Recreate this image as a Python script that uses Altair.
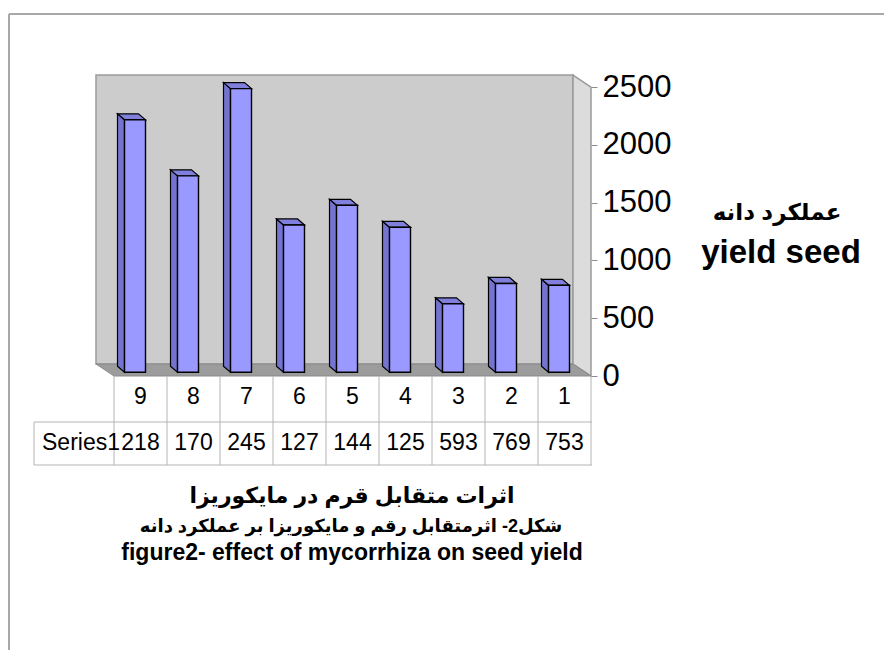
import altair as alt
import pandas as pd

# ---------------- data ----------------
categories = ["9", "8", "7", "6", "5", "4", "3", "2", "1"]
yield_values = [2185, 1700, 2455, 1275, 1445, 1255, 593, 769, 753]
table_labels = ["218", "170", "245", "127", "144", "125", "593", "769", "753"]
series_name = "Series1"
y_ticks = [0, 500, 1000, 1500, 2000, 2500]
title_fa = "اثرات متقابل قرم در مایکوریزا"
caption_fa = "شکل2- اثرمتقابل رقم و مایکوریزا بر عملکرد دانه"
caption_en = "figure2- effect of mycorrhiza on seed yield"
ytitle_fa = "عملکرد دانه"
ytitle_en = "yield seed"

# ---------------- geometry helpers ----------------
W, H = 477, 312
N = len(categories)
X_DOM = [-0.5, N - 0.5]
Y_DOM = [0, 2700]
WALL_TOP = 2500
PX_X = W / N
PX_Y = H / (Y_DOM[1] - Y_DOM[0])


def ux(px):
    return px / PX_X


def uy(px):
    return px / PX_Y


WALL_DX, WALL_DY = ux(-18), uy(12)
BAR_FX, BAR_FY = ux(-5.5), uy(3.7)
BAR_HW = ux(10.5)
BAR_DX, BAR_DY = ux(-7), uy(6)

FONT = "Liberation Sans, Arial, DejaVu Sans, sans-serif"
AFONT = "Liberation Sans, DejaVu Sans, sans-serif"

xs = alt.Scale(domain=X_DOM, nice=False, zero=False)
ys = alt.Scale(domain=Y_DOM, nice=False, zero=False)
yaxis = alt.Axis(orient="right", values=y_ticks, format="d", labelFontSize=31,
                 labelColor="black", labelFont=FONT, tickColor="#8c8c8c", tickSize=6,
                 tickWidth=1, domain=False, grid=False, title=None, labelPadding=5)


def X(f):
    return alt.X(f, type="quantitative", scale=xs, axis=None)


def Y(f):
    return alt.Y(f, type="quantitative", scale=ys, axis=yaxis)


# ---------------- frames ----------------
bars = pd.DataFrame({"i": list(range(N)), "cat": categories, "v": yield_values,
                     "lab": table_labels})
bars["x1"] = bars["i"] + BAR_FX - BAR_HW
bars["x2"] = bars["i"] + BAR_FX + BAR_HW
bars["y1"] = BAR_FY
bars["y2"] = bars["v"] + BAR_FY

side_rows, top_rows = [], []
for _, r in bars.iterrows():
    side_rows.append({"bar": r["i"], "x": r["x1"], "lo": BAR_FY, "hi": r["y2"]})
    side_rows.append({"bar": r["i"], "x": r["x1"] + BAR_DX, "lo": BAR_FY + BAR_DY,
                      "hi": r["y2"] + BAR_DY})
    top_rows.append({"bar": r["i"], "y": r["y2"], "lo": r["x1"], "hi": r["x2"]})
    top_rows.append({"bar": r["i"], "y": r["y2"] + BAR_DY, "lo": r["x1"] + BAR_DX,
                     "hi": r["x2"] + BAR_DX})
side = pd.DataFrame(side_rows)
top = pd.DataFrame(top_rows)

back = pd.DataFrame({"x1": [X_DOM[0] + WALL_DX], "x2": [X_DOM[1] + WALL_DX],
                     "y1": [WALL_DY], "y2": [WALL_TOP + WALL_DY]})
sidewall = pd.DataFrame({"x": [X_DOM[1] + WALL_DX, X_DOM[1]],
                         "lo": [WALL_DY, 0], "hi": [WALL_TOP + WALL_DY, WALL_TOP]})
floor = pd.DataFrame({"y": [0, WALL_DY], "lo": [X_DOM[0], X_DOM[0] + WALL_DX],
                      "hi": [X_DOM[1], X_DOM[1] + WALL_DX]})
colbounds = pd.DataFrame({"b": [i - 0.5 for i in range(N + 1)]})
one = pd.DataFrame({"k": [0]})

# ---------------- layers ----------------
back_l = alt.Chart(back).mark_rect(fill="#cccccc", stroke="#9a9a9a", strokeWidth=1.5).encode(
    x=X("x1"), x2="x2", y=Y("y1"), y2="y2")
side_l = alt.Chart(sidewall).mark_area(fill="#dcdcdc", stroke="#9a9a9a", strokeWidth=1.5,
                                       opacity=1).encode(x=X("x"), y=Y("lo"), y2="hi")
floor_l = alt.Chart(floor).mark_area(orient="horizontal", fill="#9c9c9c", stroke="#8a8a8a",
                                     strokeWidth=1, opacity=1).encode(
    y=Y("y"), x=X("lo"), x2="hi")

bar_side = alt.Chart(side).mark_area(fill="#7474d0", stroke="black", strokeWidth=1.2,
                                     opacity=1).encode(
    x=X("x"), y=Y("lo"), y2="hi", detail="bar:N")
bar_top = alt.Chart(top).mark_area(orient="horizontal", fill="#8080dc", stroke="black",
                                   strokeWidth=1.2, opacity=1).encode(
    y=Y("y"), x=X("lo"), x2="hi", detail="bar:N")
bar_front = alt.Chart(bars).mark_rect(fill="#9999ff", stroke="black", strokeWidth=1.4).encode(
    x=X("x1"), x2="x2", y=Y("y1"), y2="y2")

# data table
TCOL = "#b4b4b4"
vlines = alt.Chart(colbounds).mark_rule(color=TCOL, strokeWidth=1).encode(
    x=X("b"), y=alt.value(312), y2=alt.value(401))
hline1 = alt.Chart(one).mark_rule(color=TCOL, strokeWidth=1).encode(
    x=alt.value(-80), x2=alt.value(478), y=alt.value(358))
hline2 = alt.Chart(one).mark_rule(color=TCOL, strokeWidth=1).encode(
    x=alt.value(-80), x2=alt.value(478), y=alt.value(401))
lline = alt.Chart(one).mark_rule(color=TCOL, strokeWidth=1).encode(
    x=alt.value(-80), y=alt.value(358), y2=alt.value(401))
cat_txt = alt.Chart(bars).mark_text(font=FONT, fontSize=23, color="black",
                                    baseline="middle").encode(
    x=X("i"), y=alt.value(333), text="cat:N")
val_txt = alt.Chart(bars).mark_text(font=FONT, fontSize=23, color="black",
                                    baseline="middle").encode(
    x=X("i"), y=alt.value(379), text="lab:N")
ser_txt = alt.Chart(one).mark_text(font=FONT, fontSize=23, color="black", align="left",
                                   baseline="middle", text=series_name).encode(
    x=alt.value(-72), y=alt.value(379))


# titles
def label(txt, x, y, size, align="center"):
    return alt.Chart(one).mark_text(font=AFONT, fontSize=size, fontWeight="bold",
                                    color="black", align=align, baseline="middle",
                                    text=txt).encode(x=alt.value(x), y=alt.value(y))


t1 = label(title_fa, 238, 432, 22)
t2 = label(caption_fa, 237, 463, 18)
t3 = label(caption_en, 238, 489, 23)
yt1 = label(ytitle_fa, 663, 149, 23)
yt2 = label(ytitle_en, 667, 189, 33)

# outer frame
BCOL = "#a8a8a8"
btop = alt.Chart(one).mark_rule(color=BCOL, strokeWidth=2).encode(
    x=alt.value(-105), x2=alt.value(780), y=alt.value(-50))
bleft = alt.Chart(one).mark_rule(color=BCOL, strokeWidth=2).encode(
    x=alt.value(-105), y=alt.value(-50), y2=alt.value(600))

chart = alt.layer(
    back_l, side_l, floor_l, bar_side, bar_top, bar_front,
    vlines, hline1, hline2, lline, cat_txt, val_txt, ser_txt,
    t1, t2, t3, yt1, yt2, btop, bleft,
).properties(
    width=W, height=H,
    autosize=alt.AutoSizeParams(type="none"),
    padding={"left": 106, "top": 56, "right": 293, "bottom": 274},
).configure(background="white").configure_view(stroke=None)

chart.save("out.html", embed_options={"renderer": "svg", "actions": False})
